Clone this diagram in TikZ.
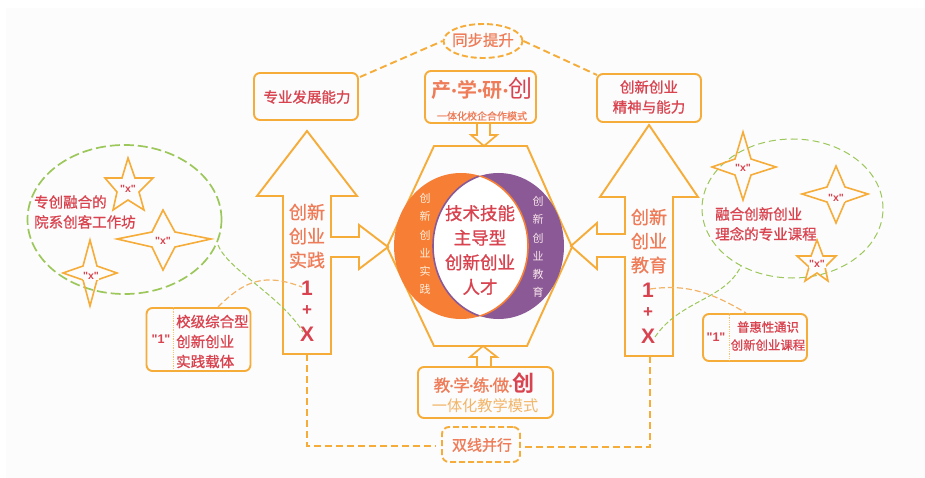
\documentclass[tikz,border=0pt]{standalone}
\usepackage{fontspec}
\setmainfont{Noto Sans CJK SC}[BoldFont=Noto Sans CJK SC,BoldFeatures={FakeBold=0.9}]
\newfontfamily\heavy{Noto Sans CJK SC Bold}
\newfontfamily\latn{Liberation Sans Bold}
\usetikzlibrary{shapes.geometric}
\definecolor{bgc}{HTML}{FCFCFC}
\definecolor{org}{HTML}{F5AC38}
\definecolor{grn}{HTML}{9CC75A}
\definecolor{redt}{HTML}{D8434F}
\definecolor{salm}{HTML}{EF7C58}
\definecolor{lorg}{HTML}{F2B568}
\definecolor{orgfill}{HTML}{F77F35}
\definecolor{purp}{HTML}{8B5A96}
\newcommand{\fz}[2]{\fontsize{#1}{#2}\selectfont}
\newcommand{\dotA}{\hspace{0.6pt}\raisebox{2pt}{\latn\fz{13}{13}•}\hspace{0.6pt}}
\newcommand{\dotB}{\raisebox{1.5pt}{\latn\fz{9}{9}•}}
\tikzset{
  outl/.style={draw=org,line width=1.9pt,line join=miter},
  boxn/.style={draw=org,line width=1.9pt,rounded corners=6pt,inner sep=0pt},
  txt/.style={inner sep=0pt,align=center},
  redtxt/.style={txt,text=redt,font=\bfseries\fz{14.5}{20}},
  lefttxt/.style={redtxt,align=left,anchor=west},
  armtxt/.style={txt,text=salm,font=\bfseries\fz{18}{24}},
  xlab/.style={inner sep=0.6pt,fill=bgc,text=redt,font=\latn\fz{10.5}{10.5}},
  dashor/.style={draw=org,line width=1.9pt,dash pattern=on 7pt off 4pt},
  dashgr/.style={draw=grn,line width=1pt,dash pattern=on 5pt off 2.5pt},
  tiny1/.style={txt,text=redt,font=\latn}
}
\begin{document}
\begin{tikzpicture}[x=1pt,y=-1pt]
\useasboundingbox (0,0) rectangle (925,478);
\fill[white] (0,0) rectangle (925,478);
\fill[bgc] (6,8) rectangle (925,478);

% hexagon
\draw[outl] (434,146) -- (527,146) -- (572,247) -- (527,346) -- (434,346) -- (387,247) -- cycle;

% overlapping ellipses
\fill[orgfill] (461,246) ellipse [x radius=67, y radius=73];
\fill[purp] (498.5,246) ellipse [x radius=65.5, y radius=73];
\begin{scope}
  \clip (461,246) ellipse [x radius=67, y radius=73];
  \fill[white] (498.5,246) ellipse [x radius=65.5, y radius=73];
  \draw[purp,line width=1.6pt] (498.5,246) ellipse [x radius=65.5, y radius=73];
\end{scope}
\begin{scope}
  \clip (498.5,246) ellipse [x radius=65.5, y radius=73];
  \draw[orgfill,line width=1.6pt] (461,246) ellipse [x radius=67, y radius=73];
\end{scope}
\node[txt,text=white!88!orange,font=\fz{11}{18.2}] (lring) at (425,244) {创\\新\\创\\业\\实\\践};
\node[txt,text=white!90!purple,font=\fz{11}{18.2}] (rring) at (538,247) {创\\新\\创\\业\\教\\育};
\node[txt,text=redt,font=\bfseries\fz{17.5}{24.6}] (core) at (480,250) {技术技能\\主导型\\创新创业\\人才};

% large arrows
\draw[outl] (307,131) -- (357,196) -- (331,196) -- (331,237) -- (359,237) -- (359,225) -- (388,247) -- (359,269) -- (359,257) -- (331,257) -- (331,354) -- (283,354) -- (283,196) -- (257,196) -- cycle;
\draw[outl] (649,125) -- (698,197) -- (673,197) -- (673,356) -- (625,356) -- (625,257) -- (597,257) -- (597,269) -- (571,246) -- (597,223) -- (597,234) -- (625,234) -- (625,197) -- (600,197) -- cycle;
\coordinate (lfoot) at (307,354);
\coordinate (rfoot) at (650,356);

\node[armtxt] (larm) at (307,236) {创新\\创业\\实践};
\node[armtxt] (rarm) at (649,241) {创新\\创业\\教育};
\node[tiny1,font=\latn\fz{21}{21}] (l1) at (307,288) {1};
\node[tiny1,font=\latn\fz{17}{17}] (lp) at (307,311) {+};
\node[tiny1,font=\latn\fz{21}{21}] (lx) at (307,334) {X};
\node[tiny1,font=\latn\fz{21}{21}] (r1) at (648,290) {1};
\node[tiny1,font=\latn\fz{17}{17}] (rp) at (648,313) {+};
\node[tiny1,font=\latn\fz{21}{21}] (rx) at (648,336) {X};

% top boxes
\node[boxn,minimum width=104pt,minimum height=47pt] (bl) at (306,96.5) {};
\node[redtxt] at (307,97) {专业发展能力};
\node[boxn,minimum width=111pt,minimum height=52pt] (bm) at (480.5,97) {};
\node[boxn,minimum width=104pt,minimum height=48pt] (br) at (649,98) {};
\node[redtxt] at (649,97) {创新创业\\精神与能力};
\node[txt] at (482,88) {\textcolor{salm}{\heavy\fz{20}{24}产\dotA 学\dotA 研\dotA}\textcolor{redt}{\fz{24}{24}创}};
\node[txt,text=salm,font=\bfseries\fz{10}{10}] at (482,116) {一体化校企合作模式};

\node[draw=org,dash pattern=on 6pt off 3pt,line width=1.9pt,ellipse,minimum width=79pt,minimum height=34pt,inner sep=0pt] (sync) at (483,41) {};
\node[txt,text=salm,font=\bfseries\fz{15.4}{15.4}] at (483,40) {同步提升};
\coordinate (blc) at (360,77);
\coordinate (brc) at (597,75);
\draw[dashor] (blc) -- (sync.west);
\draw[dashor] (sync.east) -- (brc);

% small block arrows
\draw[outl,line width=1.7pt] (477,123) -- (477,135) -- (471,135) -- (484,146) -- (497,135) -- (490,135) -- (490,123);
\draw[outl,line width=1.7pt] (477,367) -- (477,357) -- (470,357) -- (483,346) -- (497,357) -- (491,357) -- (491,367);

% bottom
\node[boxn,minimum width=135pt,minimum height=51pt] (bb) at (485.5,392.5) {};
\node[txt] at (484,383) {\textcolor{salm}{\bfseries\fz{16.5}{20}教\dotB 学\dotB 练\dotB 做\dotB}\textcolor{redt}{\heavy\fz{22}{24}创}};
\node[txt,text=lorg,font=\fz{15.2}{15.2}] at (485,406) {一体化教学模式};
\node[draw=org,dash pattern=on 6pt off 3pt,line width=1.9pt,rounded corners=7pt,minimum width=78pt,minimum height=35pt,inner sep=0pt] (dual) at (481,444.5) {};
\node[txt,text=salm,font=\bfseries\fz{15}{15}] at (482,445) {双线并行};
\coordinate (dl) at (436,446);
\coordinate (dr) at (524,447);
\draw[dashor] (lfoot) |- (dl);
\draw[dashor] (rfoot) |- (dr);

% left cluster
\node[draw=grn,line width=1.7pt,dash pattern=on 10pt off 4pt,ellipse,minimum width=194pt,minimum height=149pt,inner sep=0pt] (lell) at (124.5,219.5) {};
\node[lefttxt,anchor=west] at (34,212) {专创融合的\\院系创客工作坊};
\draw[outl,line width=1.6pt] (128,158) -- (135,178) -- (153,178) -- (139,192) -- (144,210) -- (128,200) -- (113,210) -- (117,192) -- (105,178) -- (122,178) -- cycle;
\node[xlab] at (128,189) {"x"};
\draw[outl,line width=1.6pt] (163,210) -- (175,232) -- (211,239) -- (175,247) -- (163,270) -- (152,247) -- (117,239) -- (152,232) -- cycle;
\node[xlab] at (163,241) {"x"};
\draw[outl,line width=1.6pt] (90,240) -- (97,266) -- (117,273) -- (97,280) -- (90,306) -- (83,280) -- (63,273) -- (83,266) -- cycle;
\node[xlab] at (91,276) {"x"};

% left small box
\node[boxn,minimum width=104pt,minimum height=63pt] (lbox) at (198.5,339.5) {};
\draw[org!70,line width=0.8pt,densely dotted] (lbox.north west) ++(28,0) -- ++(0,63);
\node[tiny1,font=\latn\fz{12.5}{12.5}] at (161,339) {"1"};
\node[lefttxt,align=left] at (176,341.5) {校级综合型\\创新创业\\实践载体};

\coordinate (lellout) at (218,245);
\coordinate (lxin) at (303,332);
\draw[dashgr] (lellout) .. controls (228,270) and (280,295) .. (lxin);
\coordinate (lboxtop) at (218,307);
\coordinate (l1in) at (302,287);
\draw[draw=lorg,line width=1.2pt,dash pattern=on 6pt off 3pt] (lboxtop) .. controls (245,280) and (265,273) .. (l1in);

% right cluster
\node[draw=grn,line width=1pt,dash pattern=on 7pt off 4pt,ellipse,minimum width=181pt,minimum height=139pt,inner sep=0pt] (rell) at (792.5,208.5) {};
\node[lefttxt] at (715,224) {融合创新创业\\理念的专业课程};
\draw[outl,line width=1.6pt] (743,132) -- (751,159) -- (776,167) -- (751,175) -- (743,200) -- (735,175) -- (712,167) -- (735,159) -- cycle;
\node[xlab] at (743,168) {"x"};
\draw[outl,line width=1.6pt] (836,166) -- (845,187) -- (868,194) -- (845,202) -- (836,223) -- (827,202) -- (802,194) -- (827,187) -- cycle;
\node[xlab] at (836,198) {"x"};
\draw[outl,line width=1.6pt] (817,240) -- (823,256) -- (836,256) -- (825,267) -- (828,281) -- (817,273) -- (805,281) -- (809,267) -- (797,256) -- (811,256) -- cycle;
\node[xlab] at (817,264) {"x"};

\node[boxn,minimum width=104pt,minimum height=47pt] (rbox) at (755,337.5) {};
\draw[org!70,line width=0.8pt,densely dotted] (rbox.north west) ++(27,0) -- ++(0,47);
\node[tiny1,font=\latn\fz{12.5}{12.5}] at (716,337) {"1"};
\node[txt,text=redt,font=\bfseries\fz{12.4}{18}] at (768,336) {普惠性通识\\创新创业课程};

\coordinate (r1in) at (650,289);
\coordinate (rboxtop) at (746,313);
\draw[draw=lorg,line width=1.2pt,dash pattern=on 6pt off 3pt] (r1in) .. controls (680,285) and (705,288) .. (rboxtop);
\coordinate (rxin) at (655,337);
\coordinate (rellout) at (741,266);
\draw[dashgr] (rxin) .. controls (680,300) and (725,300) .. (rellout);
\end{tikzpicture}
\end{document}
